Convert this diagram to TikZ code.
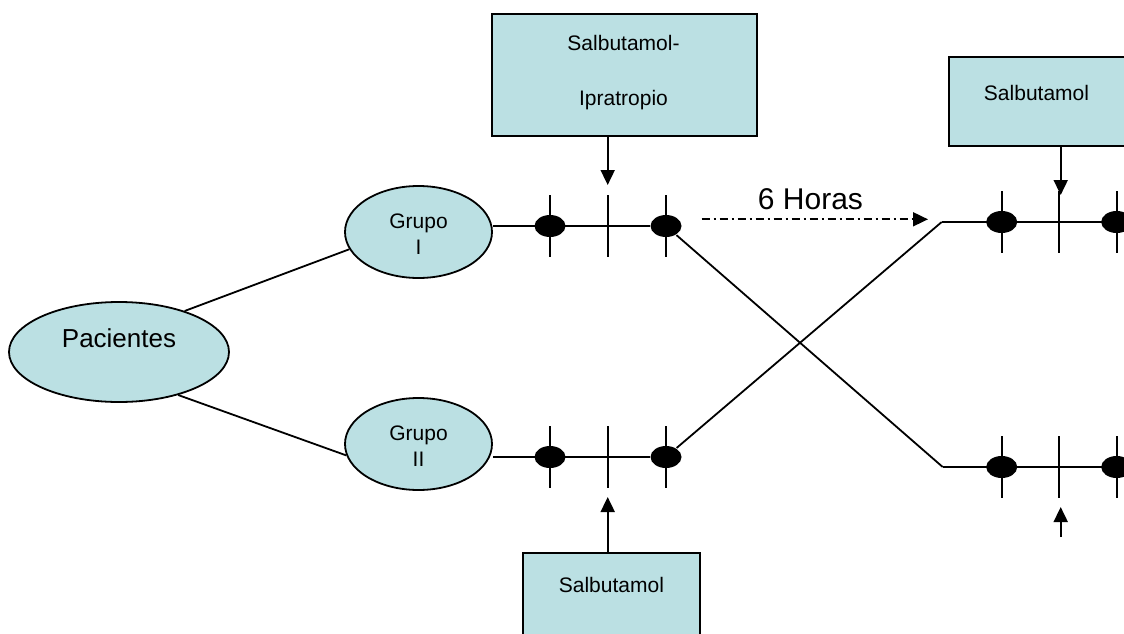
\documentclass[tikz,border=0pt]{standalone}
\usepackage{fontspec}
\setmainfont{Liberation Sans}
\usetikzlibrary{shapes.geometric,arrows.meta}
\definecolor{boxfill}{RGB}{187,224,227}
\begin{document}
\begin{tikzpicture}[x=1pt,y=-1pt,line width=1.8pt,
  oval/.style={ellipse,draw,fill=boxfill,line width=1.8pt,inner sep=0pt},
  drug/.style={draw,fill=boxfill,line width=1.8pt,inner sep=0pt},
  dotmark/.style={ellipse,fill=black,minimum width=31pt,minimum height=22pt,inner sep=0pt},
  tri/.style={-{Triangle[length=15pt,width=14pt]}},
  lbl/.style={font=\fontsize{21}{26}\selectfont,align=center},
  dashdotline/.style={dash pattern=on 8pt off 4pt on 2pt off 4pt}
]
\useasboundingbox (0,0) rectangle (1124,634);
\clip (0,0) rectangle (1124,634);

% ovals
\node[oval,minimum width=220pt,minimum height=100pt] (pac) at (119,352) {};
\node[font=\fontsize{26}{30}\selectfont] (pactxt) at (119,338) {Pacientes};
\node[oval,minimum width=147pt,minimum height=92pt] (g1) at (418.5,232) {};
\node[lbl] (g1txt) at (418.5,234) {Grupo\\I};
\node[oval,minimum width=147pt,minimum height=92pt] (g2) at (418.5,444) {};
\node[lbl] (g2txt) at (418.5,446) {Grupo\\II};

% drug boxes
\node[drug,minimum width=265pt,minimum height=122pt] (top) at (624.5,75) {};
\node[font=\fontsize{21}{55}\selectfont,align=center] (toptxt) at (623.5,72.5) {Salbutamol-\\Ipratropio};
\node[drug,minimum width=181pt,minimum height=89pt] (rbox) at (1039.5,101.5) {};
\node[lbl] (rtxt) at (1036.5,92.7) {Salbutamol};
\node[drug,minimum width=177pt,minimum height=92pt] (bbox) at (611.4,599) {};
\node[lbl] (btxt) at (611.4,585) {Salbutamol};

% dots
\node[dotmark] (d11) at (550,226) {};
\node[dotmark] (d12) at (666,226) {};
\node[dotmark] (d21) at (550,457) {};
\node[dotmark] (d22) at (666,457) {};
\node[dotmark] (d31) at (1001.7,222) {};
\node[dotmark] (d32) at (1116.7,222) {};
\node[dotmark] (d41) at (1001.7,467) {};
\node[dotmark] (d42) at (1116.7,467) {};

% tick centres
\coordinate (m1) at (607.7,226);
\coordinate (m2) at (607.7,457);
\coordinate (m3) at (1058.7,222);
\coordinate (m4) at (1058.7,467);

% ticks
\foreach \p in {d11,d12,m1,d21,d22,m2,d31,d32,m3,d41,d42,m4}
  \draw ([yshift=31pt]\p.center) -- ([yshift=-31pt]\p.center);

% links from Pacientes
\draw (pac.32.5) -- (g1.194.7);
\draw (pac.324.4) -- (g2.189.8);

% horizontal lines
\draw (d11 -| g1.east) -- (d12);
\draw (d21 -| g2.east) -- (d22);
\coordinate (r1) at (941.7,222);
\coordinate (r1end) at (1130,222);
\coordinate (r2) at (942.7,467);
\coordinate (r2end) at (1130,467);
\draw (r1) -- (r1end);
\draw (r2) -- (r2end);

% crossing lines
\draw (d12) -- (r2);
\draw (d22) -- (r1);

% six hours
\coordinate (h1) at (701.7,219.3);
\coordinate (h2) at (928,219.3);
\draw[tri,dashdotline] (h1) -- (h2);
\node[font=\fontsize{30}{34}\selectfont] (hrs) at (810.5,199) {6 Horas};

% arrows
\coordinate (a1) at (607.7,185);
\draw[tri] (a1 |- top.south) -- (a1);
\coordinate (a2) at (607.7,497);
\draw[tri] (a2 |- bbox.north) -- (a2);
\coordinate (a3) at (1060.7,195);
\draw[tri] (a3 |- rbox.south) -- (a3);
\coordinate (a4) at (1060.7,507);
\coordinate (a4tail) at (1060.7,537);
\draw[tri] (a4tail) -- (a4);
\end{tikzpicture}
\end{document}
